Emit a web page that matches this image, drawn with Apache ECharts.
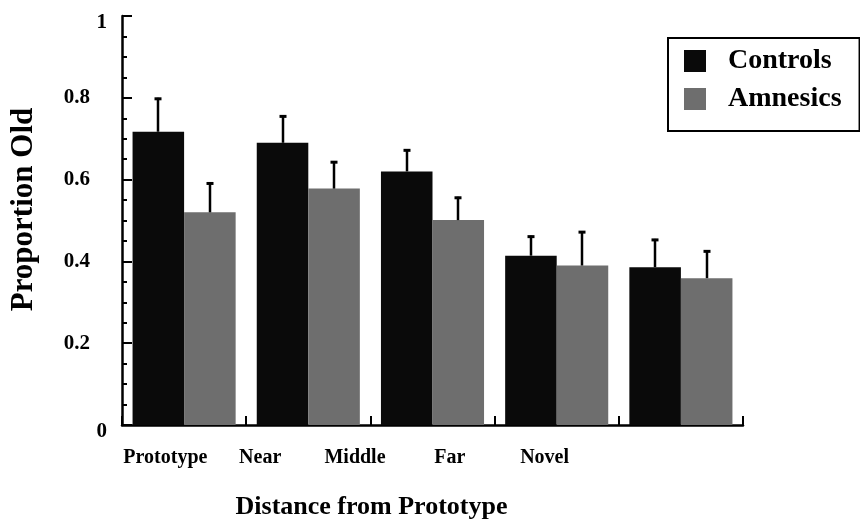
<!DOCTYPE html>
<html><head><meta charset="utf-8">
<script src="https://cdn.jsdelivr.net/npm/echarts@6/dist/echarts.min.js"></script>
<style>html,body{margin:0;padding:0;background:#fff}#chart{width:860px;height:525px}</style>
</head><body><div id="chart"></div>
<script>
const categories = ['Prototype', 'Near', 'Middle', 'Far', 'Novel'];
const seriesNames = ['Controls', 'Amnesics'];
const controlsMean = [0.717, 0.690, 0.620, 0.414, 0.386];
const controlsErr  = [0.083, 0.067, 0.054, 0.049, 0.069];
const amnesicsMean = [0.520, 0.578, 0.501, 0.390, 0.359];
const amnesicsErr  = [0.073, 0.067, 0.057, 0.084, 0.068];
const yMin = 0, yMax = 1, yStep = 0.2;
const xTitle = 'Distance from Prototype';
const yTitle = 'Proportion Old';

const FONT = '"Liberation Serif", "Times New Roman", serif';
const CAT_GAP = 0.17;
const COLORS = ['#0a0a0a', '#6e6e6e'];

function errorSeries(name, means, errs, side) {
  return {
    type: 'custom', name: name + ' error', xAxisIndex: 0, yAxisIndex: 0, z: 5,
    silent: true,
    data: means.map((m, i) => [i, m, m + errs[i]]),
    renderItem(params, api) {
      const i = api.value(0);
      const band = api.size([1, 0])[0];
      const barW = band * (1 - CAT_GAP) / 2;
      const base = api.coord([i, api.value(1)]);
      const top = api.coord([i, api.value(2)]);
      const x = Math.round(base[0] + side * barW / 2);
      return {
        type: 'group', children: [
          { type: 'line', shape: { x1: x, y1: base[1], x2: x, y2: top[1] }, style: { stroke: '#000', lineWidth: 2.5 } },
          { type: 'line', shape: { x1: x - 3.5, y1: top[1] + 1, x2: x + 3.5, y2: top[1] + 1 }, style: { stroke: '#000', lineWidth: 3 } }
        ]
      };
    }
  };
}

const chart = echarts.init(document.getElementById('chart'), null, { renderer: 'canvas' });
chart.setOption({
  backgroundColor: '#fff',
  animation: false,
  textStyle: { fontFamily: FONT },
  grid: [
    { left: 122, top: 16, width: 621, height: 411 },
    { left: 118, top: 16, width: 474, height: 411 }
  ],
  legend: {
    data: seriesNames,
    orient: 'vertical',
    left: 668, top: 38,
    padding: [9, 18, 18, 16],
    itemGap: 10,
    itemWidth: 22, itemHeight: 22,
    icon: 'rect',
    borderColor: '#000', borderWidth: 2,
    textStyle: { fontFamily: FONT, fontWeight: 'bold', fontSize: 28, color: '#000', padding: [0, 0, 0, 17], lineHeight: 27 }
  },
  xAxis: [
    {
      type: 'category', gridIndex: 0, data: categories,
      axisLine: { show: true, lineStyle: { color: '#000', width: 2.5 } },
      axisTick: { show: true, inside: true, length: 9, interval: 0, lineStyle: { color: '#000', width: 2 } },
      axisLabel: { show: false },
      name: xTitle, nameLocation: 'middle', nameGap: 69,
      nameTextStyle: { fontFamily: FONT, fontWeight: 'bold', fontSize: 26, color: '#000', padding: [0, 122, 0, 0] }
    },
    {
      type: 'category', gridIndex: 1, data: categories,
      axisLine: { show: false }, axisTick: { show: false },
      axisLabel: { show: true, interval: 0, margin: 21, fontFamily: FONT, fontWeight: 'bold', fontSize: 20, color: '#000' }
    }
  ],
  yAxis: [
    {
      type: 'value', gridIndex: 0, min: yMin, max: yMax, interval: yStep,
      axisLine: { show: true, lineStyle: { color: '#000', width: 2.5 } },
      axisTick: { show: true, inside: true, length: 10, lineStyle: { color: '#000', width: 2 } },
      minorTick: { show: true, splitNumber: 4, length: 5, lineStyle: { color: '#000', width: 2 } },
      splitLine: { show: false },
      axisLabel: {
        margin: 15,
        formatter: v => Number.isInteger(v) ? '{i|' + v + '}' : '{d|' + v + '}',
        rich: {
          i: { fontFamily: FONT, fontWeight: 'bold', fontSize: 21, color: '#000', padding: [14, 0, 0, 0] },
          d: { fontFamily: FONT, fontWeight: 'bold', fontSize: 21, color: '#000', padding: [0, 17, 0, 0] }
        }
      },
      name: yTitle, nameLocation: 'middle', nameGap: 83,
      nameTextStyle: { fontFamily: FONT, fontWeight: 'bold', fontSize: 31, color: '#000', padding: [0, 0, 0, 22] }
    },
    { type: 'value', gridIndex: 1, min: yMin, max: yMax, show: false }
  ],
  series: [
    { type: 'bar', name: seriesNames[0], data: controlsMean, xAxisIndex: 0, yAxisIndex: 0,
      barGap: '0%', barCategoryGap: (CAT_GAP * 100) + '%', itemStyle: { color: COLORS[0] } },
    { type: 'bar', name: seriesNames[1], data: amnesicsMean, xAxisIndex: 0, yAxisIndex: 0,
      barGap: '0%', barCategoryGap: (CAT_GAP * 100) + '%', itemStyle: { color: COLORS[1] } },
    errorSeries(seriesNames[0], controlsMean, controlsErr, -1),
    errorSeries(seriesNames[1], amnesicsMean, amnesicsErr, 1)
  ]
});
</script></body></html>
